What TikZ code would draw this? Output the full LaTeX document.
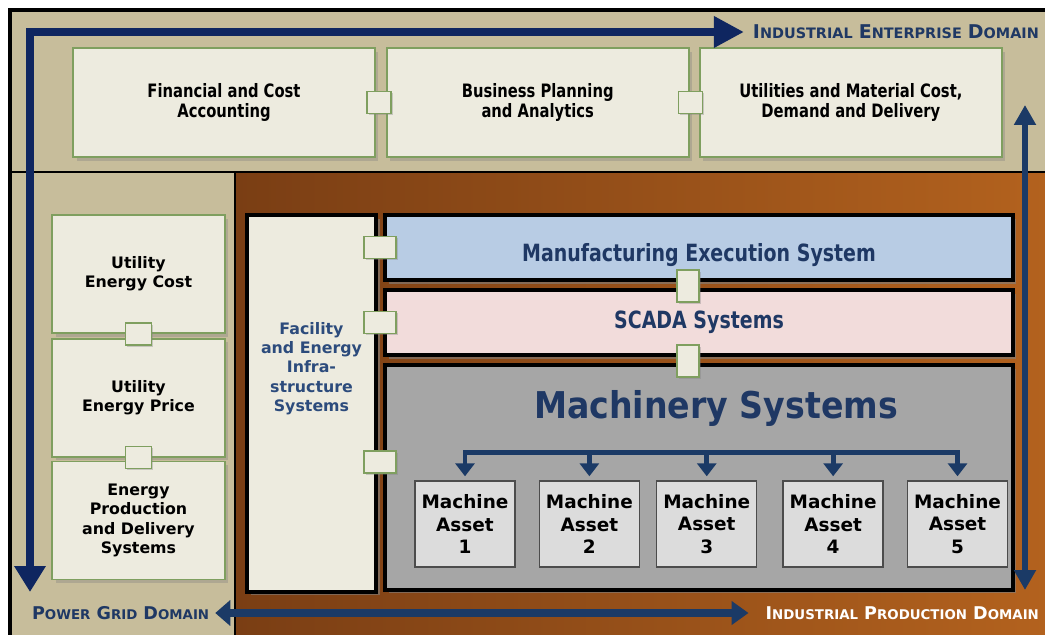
\documentclass[tikz,border=0pt]{standalone}
\usepackage{fontspec}
\setmainfont{DejaVu Sans}
\newfontfamily\condfont[FakeStretch=0.8]{DejaVu Sans}
\newfontfamily\titlefont[FakeStretch=0.9]{DejaVu Sans}
\usetikzlibrary{positioning,shadows,arrows.meta}

\definecolor{tanbg}{HTML}{C7BD9B}
\definecolor{cream}{HTML}{EDEBDF}
\definecolor{leafline}{HTML}{7F9F5F}
\definecolor{gridnavy}{HTML}{0F2660}
\definecolor{prodnavy}{HTML}{1B3A66}
\definecolor{textnavy}{HTML}{1F3864}
\definecolor{facnavy}{HTML}{2C4B7C}
\definecolor{brownL}{HTML}{7A3E14}
\definecolor{brownR}{HTML}{B3621E}
\definecolor{mesblue}{HTML}{B8CCE4}
\definecolor{scadapink}{HTML}{F2DCDB}
\definecolor{machgray}{HTML}{A6A6A6}
\definecolor{assetgray}{HTML}{DCDCDC}

% small caps by hand: big first letter, small rest
\newcommand{\entcap}[2]{{\fontsize{10.8}{12}\selectfont #1}{\fontsize{8.2}{9}\selectfont #2}}
\newcommand{\domcap}[2]{{\fontsize{10}{12}\selectfont #1}{\fontsize{7.6}{9}\selectfont #2}}

\begin{document}
\begin{tikzpicture}[
  x=0.02cm, y=-0.02cm,
  bizbox/.style={rectangle, draw=leafline, line width=1pt, fill=cream, align=center,
                 minimum width=6.04cm, minimum height=2.18cm,
                 font=\condfont\bfseries\fontsize{10.5}{11}\selectfont,
                 drop shadow={shadow xshift=2pt, shadow yshift=-2pt, opacity=0.35}},
  gridbox/.style={rectangle, draw=leafline, line width=1pt, fill=cream, align=center,
                  minimum width=3.46cm, minimum height=2.36cm,
                  font=\bfseries\fontsize{9}{11}\selectfont,
                  drop shadow={shadow xshift=2pt, shadow yshift=-2pt, opacity=0.35}},
  link/.style={rectangle, draw=leafline, line width=1pt, fill=cream, inner sep=0pt,
               minimum width=0.48cm, minimum height=0.44cm,
               drop shadow={shadow xshift=1pt, shadow yshift=-1pt, opacity=0.35}},
  linkv/.style={link, minimum width=0.44cm, minimum height=0.64cm},
  sysbox/.style={rectangle, draw=black, line width=2pt, align=center, text=textnavy,
                 minimum width=12.56cm, minimum height=1.3cm,
                 font=\condfont\bfseries\fontsize{13.5}{15}\selectfont,
                 drop shadow={shadow xshift=2pt, shadow yshift=-2pt, opacity=0.6}},
  asset/.style={rectangle, draw=black!70, line width=0.8pt, fill=assetgray, align=center,
                minimum width=2cm, minimum height=1.72cm, inner sep=1pt,
                font=\bfseries\fontsize{10.5}{13}\selectfont},
  domlabel/.style={font=\bfseries, inner sep=1pt},
  entflow/.style={gridnavy, line width=4pt, {Triangle[length=0.52cm,width=0.6cm]}-{Triangle[length=0.6cm,width=0.6cm]}},
  prodflow/.style={prodnavy, line width=4pt, {Triangle[length=0.3cm,width=0.5cm]}-{Triangle[length=0.34cm,width=0.46cm]}},
  upflow/.style={prodnavy, line width=3.2pt, {Triangle[length=0.4cm,width=0.42cm]}-{Triangle[length=0.4cm,width=0.42cm]}},
  bus/.style={prodnavy, line width=2.8pt, line cap=rect},
  busarrow/.style={prodnavy, line width=2.8pt, -{Triangle[length=0.26cm,width=0.38cm]}}
]
\useasboundingbox (0,0) rectangle (1045,635);
\clip (0,0) rectangle (1045,635);

% ====== TLO ======
\fill[white] (0,0) rectangle (1045,635);
\fill[tanbg] (10,10) rectangle (1050,172);
\fill[tanbg] (10,172) rectangle (235,640);
\shade[left color=brownL, right color=brownR] (235,172) rectangle (1050,640);
\draw[line width=1.8pt] (10,640) |- (1050,10);
\draw[line width=1.6pt] (10,172) -- (1050,172);
\draw[line width=1.6pt] (235,172) -- (235,640);

% ====== GORA: przedsiebiorstwo ======
\node[bizbox] (fin) at (224,102.5) {Financial and Cost\\Accounting};
\node[bizbox, right=0.2cm of fin] (plan) {Business Planning\\and Analytics};
\node[bizbox, right=0.19cm of plan] (util) {Utilities and Material Cost,\\Demand and Delivery};

\node[link] (lkfin) at ([xshift=0.06cm]fin.east) {};
\node[link] (lkplan) at ([xshift=0.02cm]plan.east) {};

% ====== LEWO: siec energetyczna ======
\node[gridbox] (ucost) at (138.5,274) {Utility\\Energy Cost};
\node[gridbox, below=0.08cm of ucost] (uprice) {Utility\\Energy Price};
\node[gridbox, below=0.06cm of uprice] (eprod) {Energy\\Production\\and Delivery\\Systems};

\node[link, minimum width=0.52cm] (lkcost) at (ucost.south) {};
\node[link, minimum width=0.52cm] (lkprice) at (uprice.south) {};

% ====== PRAWO: produkcja ======
\node[sysbox, fill=cream, minimum width=2.58cm, minimum height=7.54cm] (fac) at (311.5,403.5) {};
\node[text=facnavy, align=center, font=\bfseries\fontsize{9}{11}\selectfont]
  (factxt) at ([yshift=0.7cm]fac.center) {Facility\\and Energy\\Infra-\\structure\\Systems};

\node[sysbox, fill=mesblue] (mes) at (699,247.5) {\raisebox{-0.28cm}[0pt][0pt]{Manufacturing Execution System}};
\node[sysbox, fill=scadapink, below=0.13cm of mes] (scada) {SCADA Systems};
\node[sysbox, fill=machgray, minimum height=4.5cm, below=0.13cm of scada] (mach) {};
\node[text=textnavy, font=\titlefont\bfseries\fontsize{21}{24}\selectfont]
  (machtxt) at ([xshift=0.34cm, yshift=-0.9cm]mach.north) {Machinery Systems};

\node[link, minimum width=0.64cm] (lkmes) at ([xshift=-0.06cm]mes.west) {};
\node[link, minimum width=0.64cm] (lkscada) at ([xshift=-0.06cm]scada.west) {};
\node[link, minimum width=0.64cm] (lkmach) at ([xshift=-0.06cm, yshift=0.31cm]mach.west) {};
\node[linkv] (lkms) at ([xshift=-0.22cm, yshift=-0.08cm]mes.south) {};
\node[linkv] (lksm) at ([xshift=-0.22cm, yshift=-0.08cm]scada.south) {};

% maszyny
\node[asset] (ma1) at (465,524) {Machine\\Asset\\1};
\node[asset, right=0.46cm of ma1] (ma2) {Machine\\Asset\\2};
\node[asset, right=0.32cm of ma2] (ma3) {Machine\\Asset\\3};
\node[asset, right=0.5cm of ma3] (ma4) {Machine\\Asset\\4};
\node[asset, right=0.46cm of ma4] (ma5) {Machine\\Asset\\5};

\coordinate (busL) at ([yshift=0.56cm]ma1.north);
\draw[bus] (busL) -- (busL -| ma5.north);
\foreach \i in {1,...,5}
  \draw[busarrow] (busL -| ma\i.north) -- ([yshift=0.08cm]ma\i.north);

% ====== DOMENY i strzalki ======
\node[domlabel, text=textnavy, anchor=east] (entlbl) at (1041,32)
  {\entcap{I}{NDUSTRIAL} \entcap{E}{NTERPRISE} \entcap{D}{OMAIN}};
\node[domlabel, text=textnavy, anchor=west] (gridlbl) at (30,613)
  {\domcap{P}{OWER} \domcap{G}{RID} \domcap{D}{OMAIN}};
\node[domlabel, text=white, anchor=east] (prodlbl) at (1041,613)
  {\domcap{I}{NDUSTRIAL} \domcap{P}{RODUCTION} \domcap{D}{OMAIN}};

\coordinate (gridend) at (30,592);
\coordinate (prodtop) at (1025,105);
\coordinate (prodbot) at (1025,590);

\draw[entflow] (gridend) |- ([xshift=-0.14cm]entlbl.west);
\draw[prodflow] ([xshift=0.08cm]gridlbl.east) -- ([xshift=-0.3cm]prodlbl.west);
\draw[upflow] (prodtop) -- (prodbot);

\end{tikzpicture}
\end{document}
